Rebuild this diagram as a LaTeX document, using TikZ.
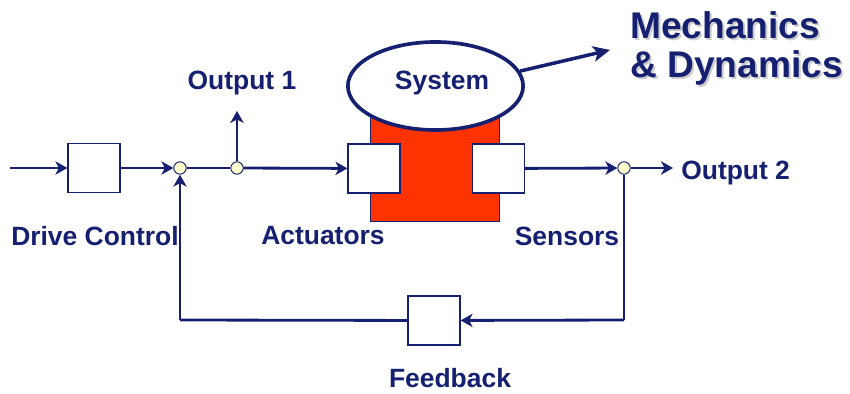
\documentclass[tikz,border=0pt]{standalone}
\usepackage{fontspec}
\setmainfont{Liberation Sans}
\usetikzlibrary{arrows.meta,shapes.geometric}

\definecolor{navy}{RGB}{22,32,112}
\definecolor{plantred}{RGB}{255,51,0}
\definecolor{dotyellow}{RGB}{255,255,204}

\tikzstyle{block}=[draw=navy, line width=0.9pt, fill=white, minimum width=1.3cm, minimum height=1.23cm, inner sep=0]
\tikzstyle{dot}=[circle, draw=navy, line width=0.7pt, fill=dotyellow, minimum size=0.31cm, inner sep=0]
\tikzstyle{lbl}=[text=navy, font=\fontsize{18.8}{21}\selectfont\bfseries, inner sep=0]
\tikzstyle{big}=[font=\fontsize{26.4}{29}\selectfont\bfseries, inner sep=0, anchor=west]
\tikzstyle{wire}=[draw=navy, line width=2pt]
\tikzstyle{arr}=[wire, -{Stealth[length=8.5pt, width=9.5pt, inset=2.5pt]}]

\begin{document}
\begin{tikzpicture}[x=0.025cm, y=-0.025cm]
	\useasboundingbox (0,0) rectangle (850,394);

	% plant body behind the actuator and sensor blocks
	\draw[fill=plantred, draw=navy, line width=0.6pt] (370,115) rectangle (499,221);
	\node[ellipse, draw=navy, line width=2.6pt, fill=white, minimum width=4.38cm, minimum height=2.2cm] (sys) at (435.5,86) {};
	\node[lbl] (systxt) at (442,83) {System};

	\node[block] (drv) at (94,168) {};
	\node[block] (act) at (374,168.5) {};
	\node[block] (sen) at (498.5,168.5) {};
	\node[block] (fb) at (434,320.5) {};

	\node[dot] (sum) at (180,168) {};
	\node[dot] (tap) at (237,168) {};
	\node[dot] (split) at (624,168) {};

	\coordinate (in) at (10,168);
	\coordinate (out1) at (237,111);
	\coordinate (out2) at (673,168);
	\coordinate (fbr) at (624,320);
	\coordinate (fbl) at (180,320);
	\coordinate (mech) at (610,50);

	% forward path
	\draw[arr] (in) -- (drv);
	\draw[arr] (drv) -- (sum);
	\draw[wire] (sum) -- (tap);
	\draw[arr] (tap) -- (act);
	\draw[arr] (tap) -- (out1);
	\draw[arr] (sen) -- (split);
	\draw[arr] (split) -- (out2);

	% feedback path
	\draw[wire] (split) -- (fbr);
	\draw[arr] (fbr) -- (fb);
	\draw[wire] (fb) -- (fbl);
	\draw[arr] (fbl) -- (sum);

	\draw[wire, line width=2.5pt, -{Stealth[length=12pt, width=11pt, inset=3pt]}] (sys.10) -- (mech);

	\node[lbl] (l_out1) at (242,83) {Output 1};
	\node[lbl, anchor=west] (l_out2) at (681,173) {Output 2};
	\node[lbl] (l_drv) at (95,236) {Drive Control};
	\node[lbl] (l_act) at (323,236) {Actuators};
	\node[lbl] (l_sen) at (567,236) {Sensors};
	\node[lbl] (l_fb) at (450,378) {Feedback};

	% heading with a soft drop shadow
	\node[big, text=black!20] at (632,27) {Mechanics};
	\node[big, text=black!20] at (632,70) {\& Dynamics};
	\node[big, text=navy] (l_mech) at (630,25) {Mechanics};
	\node[big, text=navy] (l_dyn) at (630,68) {\& Dynamics};
\end{tikzpicture}
\end{document}
